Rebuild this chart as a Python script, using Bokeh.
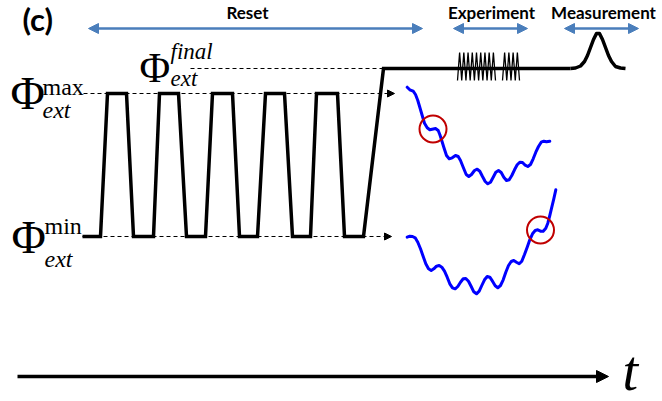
import numpy as np
from bokeh.plotting import figure
from bokeh.models import Arrow, NormalHead, Range1d
from bokeh.core.properties import value
from bokeh.embed import file_html
from bokeh.resources import INLINE

W, H = 662, 401

# Flux levels (screen units, y grows downward)
PHI_MIN = 236
PHI_MAX = 93
PHI_FINAL = 68

# Reset pulse train: corner times and levels, then ramp to the final flux
pulse_t = [82, 100, 107, 126, 133, 153, 159, 178, 186, 205, 212, 232, 239,
           257, 265, 284, 292, 310, 316, 337, 344, 363, 383, 570]
pulse_level = [PHI_MIN, PHI_MIN, PHI_MAX, PHI_MAX, PHI_MIN, PHI_MIN, PHI_MAX, PHI_MAX,
               PHI_MIN, PHI_MIN, PHI_MAX, PHI_MAX, PHI_MIN, PHI_MIN, PHI_MAX, PHI_MAX,
               PHI_MIN, PHI_MIN, PHI_MAX, PHI_MAX, PHI_MIN, PHI_MIN, PHI_FINAL, PHI_FINAL]

# Measurement pulse
meas_t = [570, 575, 580, 584, 587, 590, 593, 596, 599, 602, 605, 608, 611, 615, 620, 625]
meas_y = [68, 67.5, 65.5, 61, 55, 47, 39, 33, 33, 39, 47, 55, 61, 66, 67.5, 68]

# Experiment drive: coil blocks (start, end, number of coils)
coil_start = [457, 502]
coil_end = [495, 519]
coil_count = [9, 4]
coil_top, coil_bottom = 52, 80

# Potential landscape starting from the maximum flux
upper_x = [406.7, 409.3, 412.7, 415, 417.3, 419.3, 421.7, 424, 426.7, 429.3, 431.7, 435,
           437.7, 439.3, 441, 443.3, 446, 448.7, 451.7, 455, 457.7, 460, 462.7, 465.7,
           468.3, 471, 474, 476.7, 479.3, 482, 484.7, 487.3, 490, 492.7, 495.3, 498,
           500.7, 503.3, 506, 508.7, 511.3, 514, 516.7, 519.3, 522, 524.7, 527.3, 530,
           532.7, 535.3, 538, 540.7, 543.3, 546, 549.3]
upper_y = [86.7, 89.3, 90.7, 94, 100, 106.7, 115, 122.7, 127.3, 129.3, 128.7, 128,
           130, 134, 139.3, 146.7, 155, 158.3, 157.3, 155, 156, 160, 166.7, 174,
           176, 174, 170, 168.7, 170.7, 176, 181, 183.3, 181.7, 176.7, 171.7, 170,
           172, 176.7, 180, 179.3, 175, 169.3, 164.3, 161.7, 162, 164.7, 166, 164,
           158.3, 151.7, 146, 141.7, 140.7, 141.3, 140.7]

# Potential landscape starting from the minimum flux
lower_x = [406.7, 409.3, 412, 414.7, 417.3, 420, 422.7, 425.3, 428, 430.7, 433.3, 436,
           438.7, 441.3, 444, 446.7, 449.3, 452, 454.7, 457.3, 460, 462.7, 465.3, 468,
           470.7, 473.3, 476, 478.7, 481.3, 484, 486.7, 489.3, 492, 494.7, 497.3, 500,
           502.7, 505.3, 508, 510.7, 513.3, 516, 518.7, 521.3, 524, 526.7, 529.3, 532,
           534.7, 537.3, 540, 542.7, 545.3, 547.3, 549.3, 551.3, 553.3, 555.3]
lower_y = [236.7, 235.7, 236, 237.3, 241.7, 248.3, 256, 263.3, 268.3, 270, 268.3, 265.7,
           265, 266.7, 270.7, 276.7, 283.3, 287.3, 288.3, 286, 281.7, 278.3, 278, 280.7,
           286, 291.3, 293.3, 290.7, 285, 279.3, 276, 276.7, 280.7, 285.3, 287.3, 285,
           279.3, 271.7, 265, 261, 260, 261.7, 263.3, 260.7, 254, 246.7, 239.3, 233.3,
           230, 229.3, 230.7, 230.7, 227.7, 222.7, 215, 206.7, 198.3, 189.3]

# Marked local minima
ring_x = [432.5, 540]
ring_y = [128.5, 229.5]

# Stage spans and title positions
stage_names = ["Reset", "Experiment", "Measurement"]
stage_start = [88, 453, 564]
stage_end = [422, 527, 638]
stage_title_x = [247, 491, 603]

p = figure(width=W, height=H, output_backend="svg", toolbar_location=None,
           x_range=Range1d(0, W), y_range=Range1d(H, 0), min_border=0)
p.axis.visible = False
p.grid.visible = False
p.outline_line_color = None
p.background_fill_color = "white"
p.border_fill_color = "white"

BLUE_ARROW = "#4a7ebb"
serif = value("Liberation Serif")
sans = value("Lato")


def label(x, baseline, text, size, font=serif, style="normal", align="left"):
    # place text by its alphabetic baseline
    p.text(x=[x], y=[baseline - 0.29 * size], text=[text], text_font=font,
           text_font_style=style, text_font_size=f"{size}px", text_align=align,
           text_baseline="alphabetic", text_color="black")


# stage arrows and titles
for name, a, b, tx in zip(stage_names, stage_start, stage_end, stage_title_x):
    p.add_layout(Arrow(x_start=a, y_start=28, x_end=b, y_end=28,
                       line_color=BLUE_ARROW, line_width=2.5,
                       start=NormalHead(size=10, fill_color=BLUE_ARROW, line_color=BLUE_ARROW),
                       end=NormalHead(size=10, fill_color=BLUE_ARROW, line_color=BLUE_ARROW)))
    label(tx, 17, name, 17, font=sans, style="bold", align="center")

label(22, 27, "(c)", 31, font=sans, style="bold")

# dashed reference levels
p.line([190, 383], [PHI_FINAL, PHI_FINAL], line_color="black", line_width=1.2, line_dash="4 3")
for lvl, x0, x1 in [(PHI_MAX, 83, 394), (PHI_MIN, 82, 391)]:
    p.add_layout(Arrow(x_start=x0, y_start=lvl, x_end=x1, y_end=lvl,
                       line_color="black", line_width=1.2, line_dash="4 3",
                       end=NormalHead(size=7, fill_color="black", line_color="black")))

# flux waveform
p.line(pulse_t, pulse_level, line_color="black", line_width=3.5, line_join="miter")
p.line(meas_t, meas_y, line_color="black", line_width=3.5, line_join="round")

# experiment drive coils
for a, b, n in zip(coil_start, coil_end, coil_count):
    xs = np.linspace(a, b, 2 * n + 1)
    ys = [coil_bottom if i % 2 == 0 else coil_top for i in range(2 * n + 1)]
    p.line(xs, ys, line_color="black", line_width=1.3)

# potential landscapes
p.line(upper_x, upper_y, line_color="#0000ff", line_width=3, line_join="round", line_cap="round")
p.line(lower_x, lower_y, line_color="#0000ff", line_width=3, line_join="round", line_cap="round")
p.scatter(ring_x, ring_y, marker="circle", size=27, fill_color=None,
          line_color="#c00000", line_width=2)

# flux labels: Phi with superscript and "ext" subscript
label(10, 106, "\u03a6", 47)
label(42, 93, "max", 24)
label(42, 116, "ext", 24, style="italic")

label(11, 250, "\u03a6", 47)
label(44, 232, "min", 24)
label(44, 265, "ext", 24, style="italic")

label(139, 80, "\u03a6", 42)
label(170, 58, "final", 23, style="italic")
label(170, 85, "ext", 23, style="italic")

# time axis
p.add_layout(Arrow(x_start=17, y_start=376, x_end=608, y_end=376,
                   line_color="black", line_width=3.5,
                   end=NormalHead(size=12, fill_color="black", line_color="black")))
label(622, 387, "t", 56, style="italic")

open("out.html", "w").write(file_html(p, INLINE))
